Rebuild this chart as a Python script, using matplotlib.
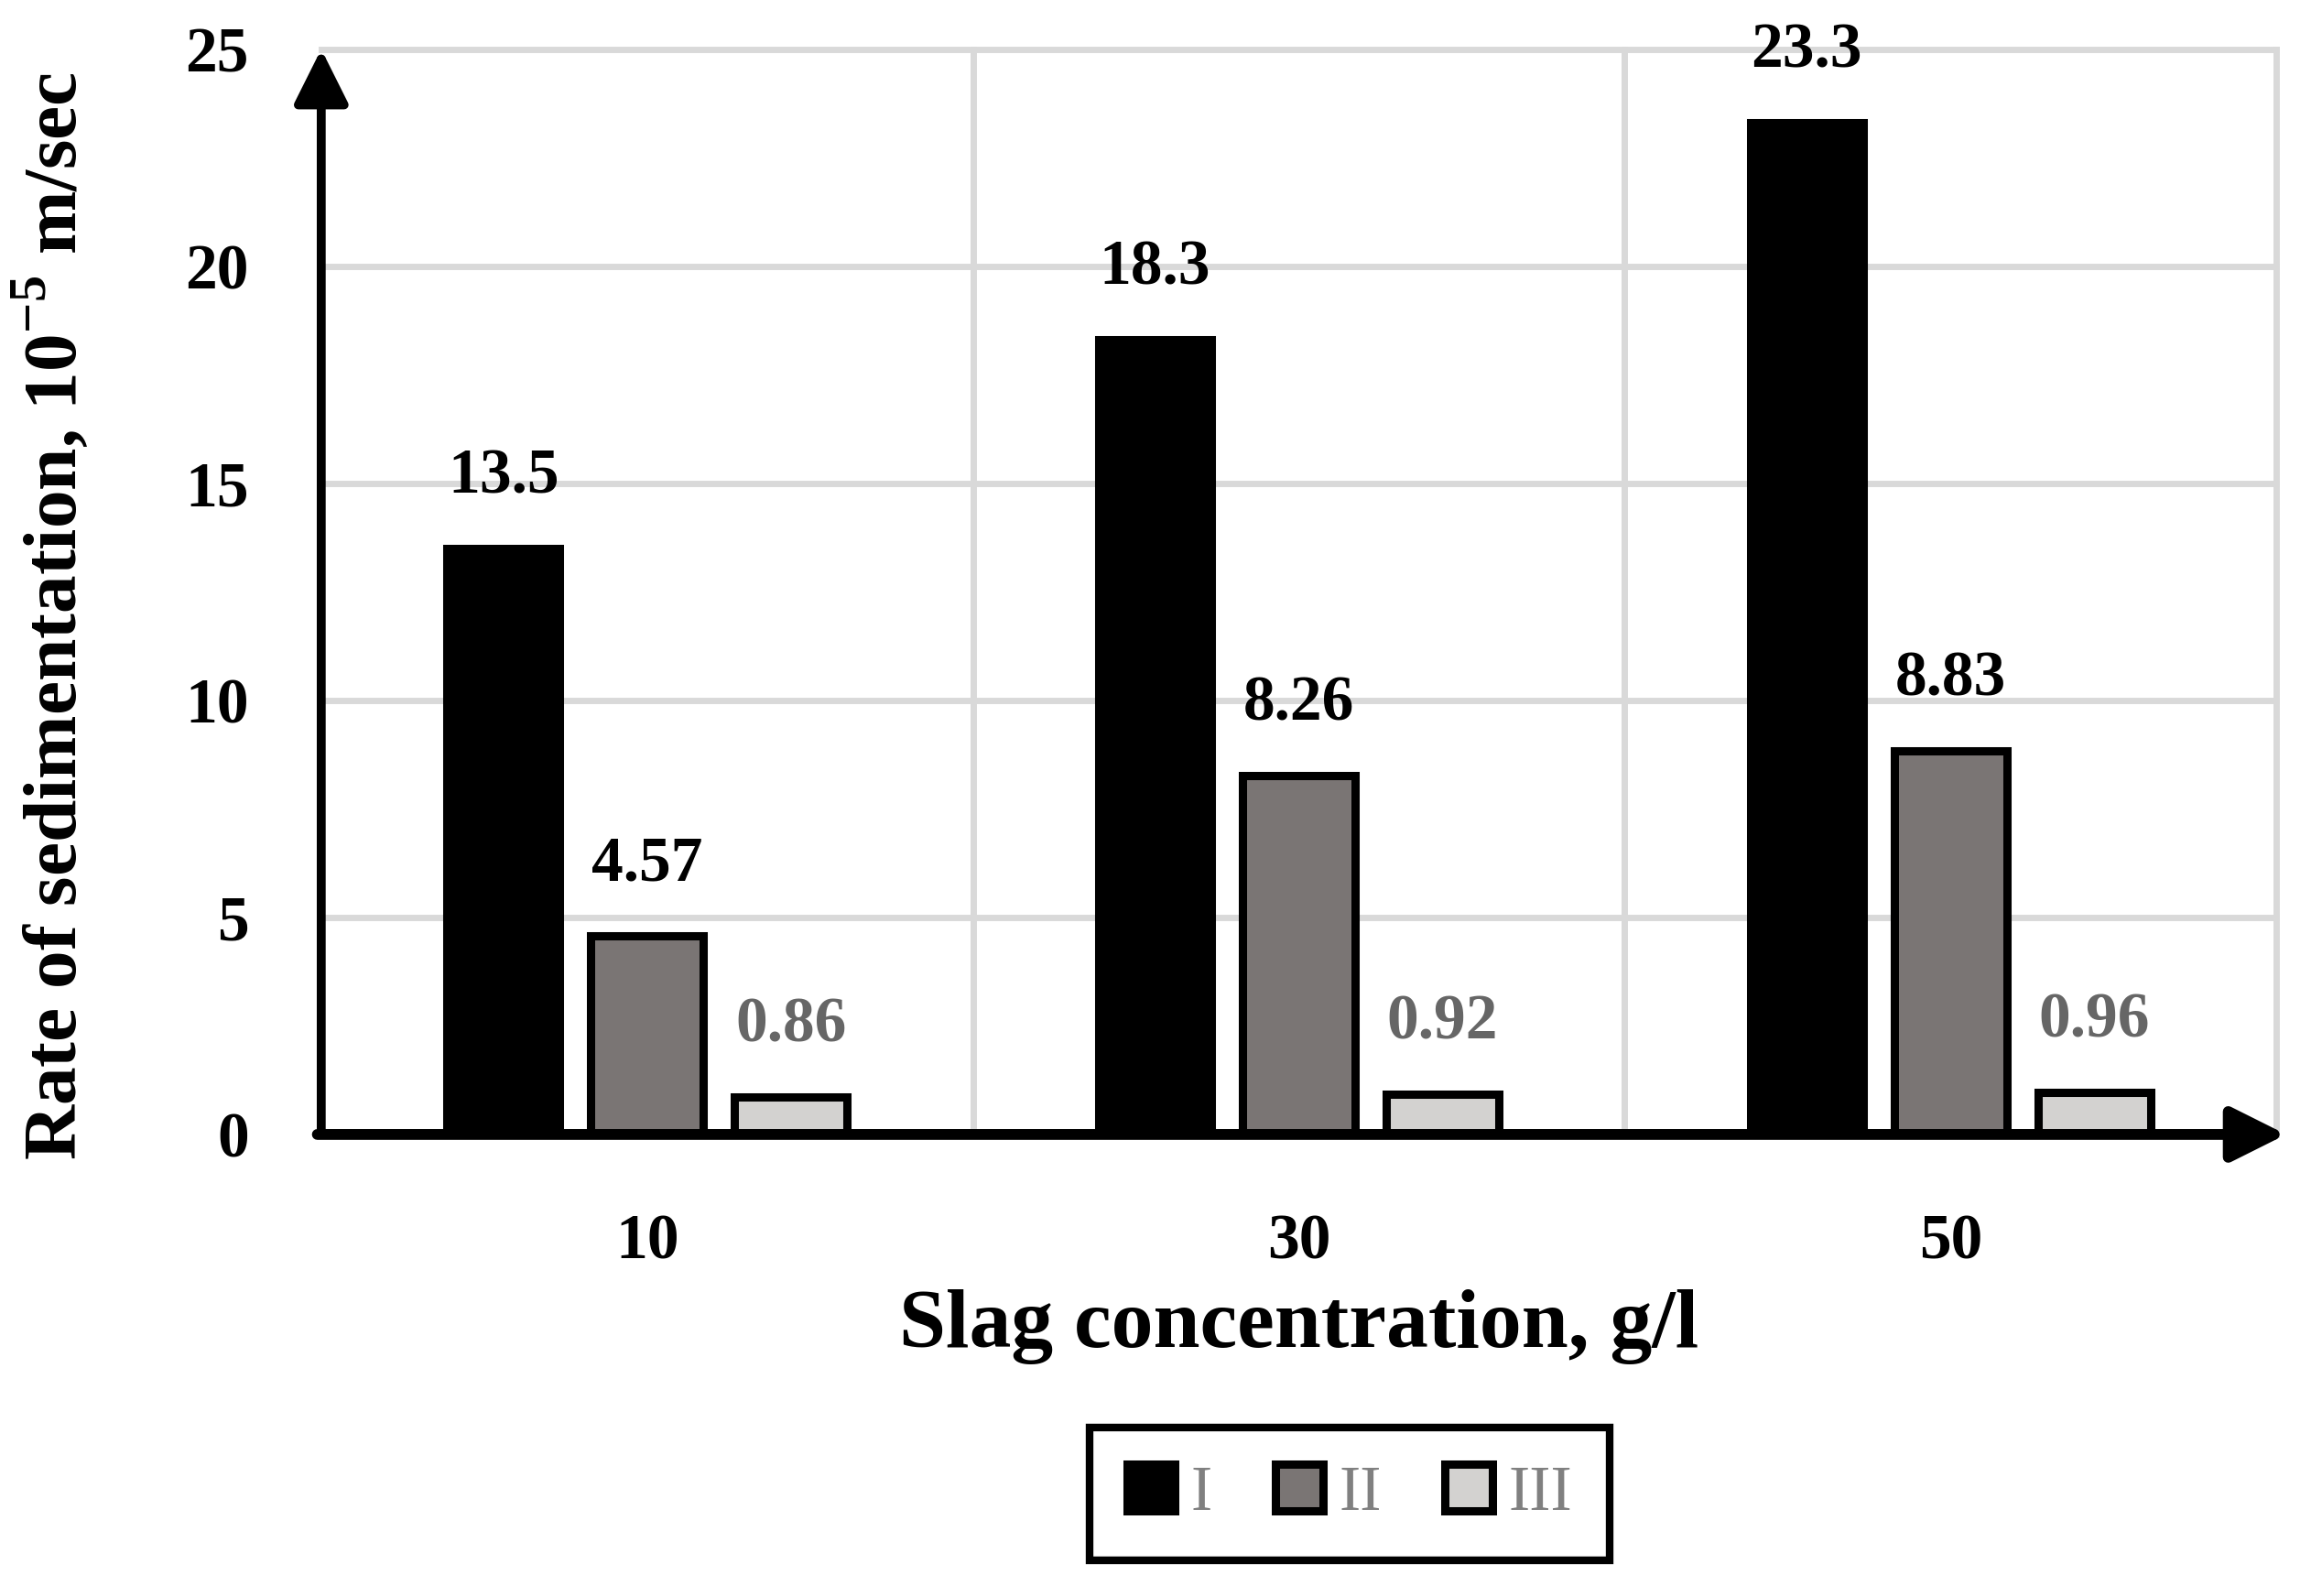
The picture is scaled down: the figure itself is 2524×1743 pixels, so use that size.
import numpy as np
import matplotlib.pyplot as plt
from matplotlib.patches import Patch

plt.rcParams['font.family'] = ['Liberation Serif', 'DejaVu Serif']
plt.rcParams['mathtext.fontset'] = 'custom'
plt.rcParams['mathtext.rm'] = 'Liberation Serif'
plt.rcParams['mathtext.bf'] = 'Liberation Serif:bold'

# data
categories = ['10', '30', '50']
series_names = ['I', 'II', 'III']
values_I = [13.5, 18.3, 23.3]
values_II = [4.57, 8.26, 8.83]
values_III = [0.86, 0.92, 0.96]
y_ticks = [0, 5, 10, 15, 20, 25]

series = [values_I, values_II, values_III]
fills = ['#000000', '#7a7574', '#d3d2d0']
label_colors = ['#000000', '#000000', '#666666']

fig = plt.figure(figsize=(25.24, 17.43), dpi=100)
ax = fig.add_axes([0.139, 0.2892, 0.846, 0.680])

x = np.arange(len(categories))
width = 0.173
step = 0.2205

# grid
for yt in y_ticks[1:]:
    ax.axhline(yt, color='#d9d9d9', lw=5, zorder=0, clip_on=False)
for xv in [0.5, 1.5, 2.5]:
    ax.axvline(xv, color='#d9d9d9', lw=5, zorder=0, clip_on=False)

for i, vals in enumerate(series):
    pos = x + (i - 1) * step
    ax.bar(pos, vals, width, color=fills[i], edgecolor='black', linewidth=6.5,
           zorder=2, label=series_names[i])
    for px, v in zip(pos, vals):
        ax.annotate(f'{v:g}', (px, v), xytext=(0, 56), textcoords='offset points',
                    ha='center', va='center', fontsize=50, fontweight='bold',
                    color=label_colors[i], annotation_clip=False)

ax.set_xlim(-0.5, 2.5)
ax.set_ylim(0, 25)
ax.set_xticks(x)
ax.set_xticklabels(categories)
ax.set_yticks(y_ticks)
ax.tick_params(axis='both', length=0, labelsize=50)
ax.tick_params(axis='y', pad=57)
ax.tick_params(axis='x', pad=62)
for t in ax.get_xticklabels() + ax.get_yticklabels():
    t.set_fontweight('bold')

for s in ax.spines.values():
    s.set_visible(False)

# axis arrows
ax.annotate('', xy=(0, 1.0), xytext=(0, 0), xycoords='axes fraction',
            arrowprops=dict(arrowstyle='-|>', lw=7, color='black',
                            mutation_scale=90, shrinkA=0, shrinkB=0), zorder=5)
ax.annotate('', xy=(1.005, 0), xytext=(-0.002, 0), xycoords='axes fraction',
            arrowprops=dict(arrowstyle='-|>', lw=8.5, color='black',
                            mutation_scale=90, shrinkA=0, shrinkB=0), zorder=5)

ax.set_xlabel('Slag concentration, g/l', fontsize=66, fontweight='bold', labelpad=14)
ax.set_ylabel(r'Rate of sedimentation, 10$^{\mathbf{-5}}$ m/sec', fontsize=60,
              fontweight='bold', va='center')
ax.yaxis.set_label_coords(-0.137, 0.478)

handles = [Patch(facecolor=fills[i], edgecolor='black', linewidth=6.5, label=series_names[i])
           for i in range(3)]
leg = fig.legend(handles=handles, loc='center', bbox_to_anchor=(0.584, 0.064), ncol=3,
                 fontsize=50, frameon=True, fancybox=False, framealpha=1,
                 handlelength=0.75, handleheight=0.75, handletextpad=0.25,
                 columnspacing=1.0, borderpad=0.58)
leg.get_frame().set_edgecolor('black')
leg.get_frame().set_linewidth(6)
for t in leg.get_texts():
    t.set_color('#808080')

fig.savefig('out.png', dpi=100)
